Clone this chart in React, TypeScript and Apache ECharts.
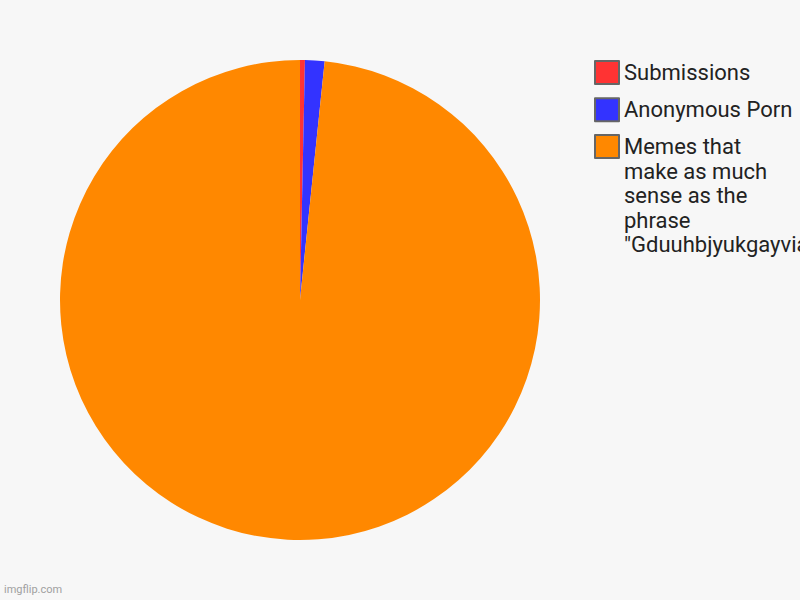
import { useEffect, useRef } from 'react';
import * as echarts from 'echarts';

// slice names in legend order, values
const names = [
  'Submissions',
  'Anonymous Porn',
  'Memes that make as much sense as the phrase "Gduuhbjyukgayvia"',
];
const values = [1, 4, 300];
const colors = ['#ff3333', '#3333ff', '#ff8800'];
// how the long legend entry wraps
const memeLines = ['Memes that', 'make as much', 'sense as the', 'phrase', '"Gduuhbjyukgayvia"'];

const LINE_H = 24.5;

const legendBase = {
  orient: 'vertical',
  left: 594,
  padding: 0,
  itemWidth: 24,
  itemHeight: 23,
  itemGap: 12.2,
  icon: 'rect',
  selectedMode: false,
  itemStyle: { borderColor: '#666', borderWidth: 2 },
  textStyle: { fontFamily: 'Roboto', fontSize: 22, color: '#222', lineHeight: LINE_H },
};

export default function App() {
  const chartRef = useRef<HTMLDivElement>(null);
  useEffect(() => {
    if (!chartRef.current) return;
    const chart = echarts.init(chartRef.current, undefined, { renderer: 'svg' });
    // the long entry gets blank lines above it so its first line sits beside the icon
    const blanks = memeLines.length - 1;
    chart.setOption({
      animation: false,
      backgroundColor: '#f7f7f7',
      color: colors,
      legend: [
        { ...legendBase, top: 60, data: [names[0], names[1]] },
        {
          ...legendBase,
          top: 146.5 - (blanks + 0.5) * LINE_H,
          data: [names[2]],
          formatter: () => '\n'.repeat(blanks) + memeLines.join('\n'),
        },
      ],
      graphic: [
        {
          type: 'text',
          left: 4,
          bottom: 5,
          style: { text: 'imgflip.com', fill: '#a0a0a0', font: '11px Roboto' },
        },
      ],
      series: [
        {
          type: 'pie',
          center: [300, 300],
          radius: 240,
          startAngle: 90,
          clockwise: true,
          label: { show: false },
          labelLine: { show: false },
          emphasis: { disabled: true },
          itemStyle: { borderWidth: 0 },
          data: names.map((n, i) => ({ name: n, value: values[i] })),
        },
      ],
    });
    return () => chart.dispose();
  }, []);
  return <div ref={chartRef} style={{ width: 800, height: 600, position: 'absolute', left: 0, top: 0 }} />;
}
